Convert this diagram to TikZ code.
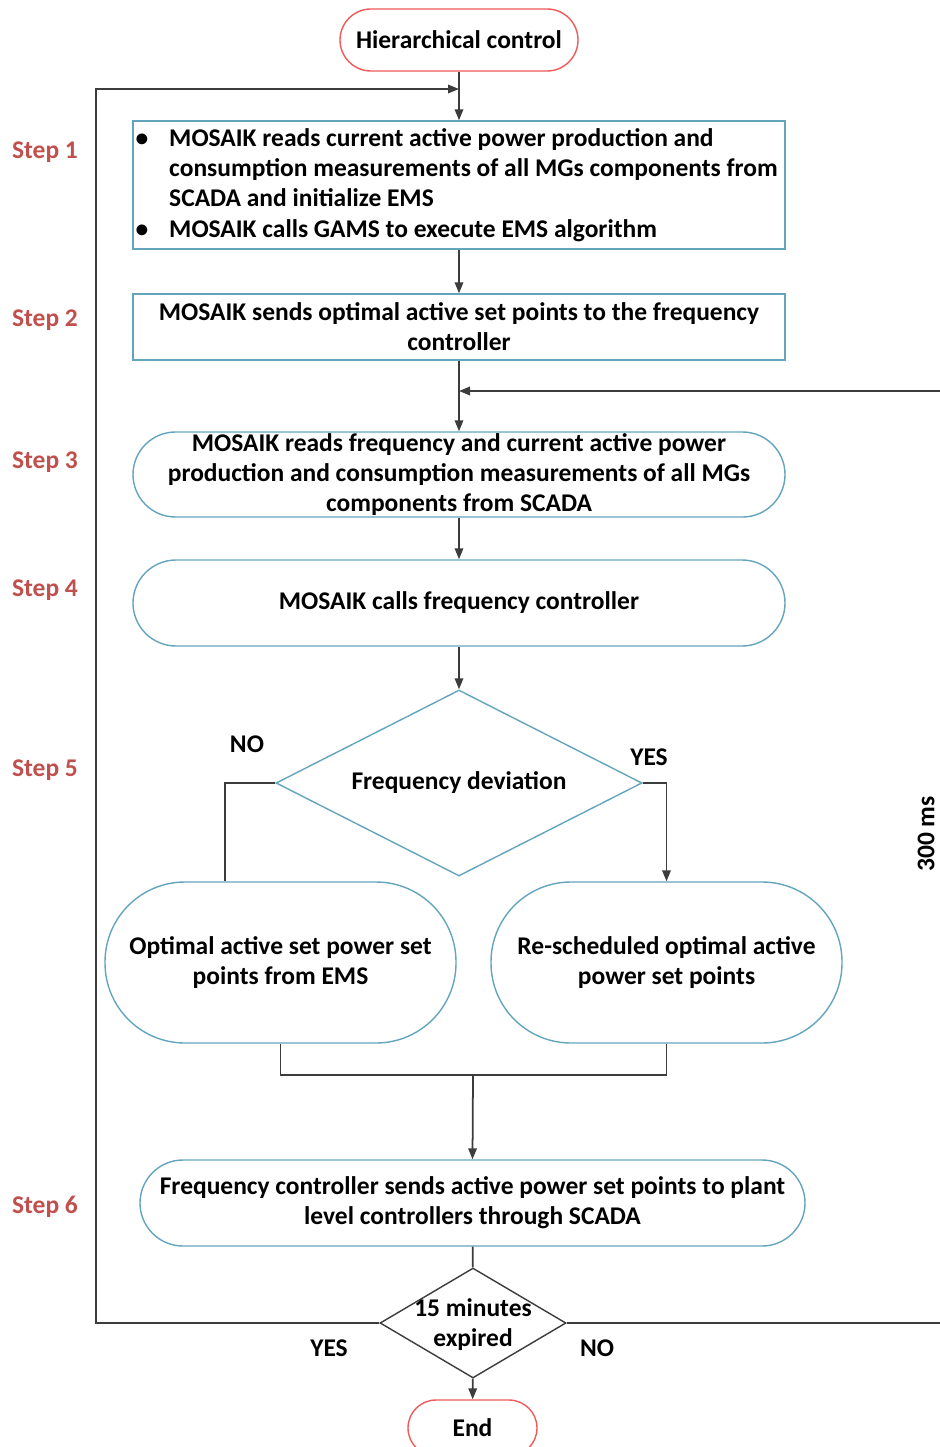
\documentclass[tikz,border=0pt]{standalone}
\usepackage{fontspec}
\setmainfont{Carlito}
\usetikzlibrary{arrows.meta}
\usetikzlibrary{shapes.geometric}
\definecolor{boxc}{RGB}{100,165,190}
\definecolor{termc}{RGB}{240,90,90}
\definecolor{stepc}{RGB}{192,80,77}
\definecolor{linec}{RGB}{60,60,60}
\tikzset{
	every node/.style={font=\fontsize{14.5}{17.2}\selectfont\bfseries},
	term/.style={draw=termc, line width=0.8pt, fill=white, align=center, inner sep=0pt},
	procbox/.style={draw=boxc, line width=0.8pt, fill=white, align=center, inner sep=0pt, minimum width=130.4mm},
	stadium/.style={procbox, rounded corners=#1},
	decbox/.style={diamond, aspect=2, draw=boxc, line width=0.8pt, fill=white, align=center, inner sep=0pt},
	steplbl/.style={text=stepc},
	ln/.style={draw=linec, line width=1pt},
	arr/.style={ln, -{Triangle[length=2.2mm, width=1.7mm]}}
}

\begin{document}
\begin{tikzpicture}[x=0.2mm, y=-0.2mm]
		\useasboundingbox (0,0) rectangle (939,1447);
		
		\node[term, minimum width=47.6mm, minimum height=12.4mm, rounded corners=6.2mm] (start) at (459,40) {Hierarchical control};
		
		\node[procbox, minimum height=25.6mm, align=left] (readems) at (459,185) {%
			\hspace*{5.8mm}\llap{\textbullet\hspace{4.2mm}}MOSAIK reads current active power production and\\
			\hspace*{5.8mm}consumption measurements of all MGs components from\\
			\hspace*{5.8mm}SCADA and initialize EMS\\
			\hspace*{5.8mm}\llap{\textbullet\hspace{4.2mm}}MOSAIK calls GAMS to execute EMS algorithm};
		\node[procbox, minimum height=13.2mm] (sendsp) at (459,327) {MOSAIK sends optimal active set points to the frequency\\controller};
		\node[stadium=8.5mm, minimum height=17mm] (readf) at (459,474.5) {MOSAIK reads frequency and current active power\\production and consumption measurements of all MGs\\components from SCADA};
		\node[stadium=8.6mm, minimum height=17.2mm] (callfc) at (459,603) {MOSAIK calls frequency controller};
		
		\node[decbox, minimum width=73.2mm, minimum height=37.2mm] (fdev) at (459,783) {Frequency deviation};
		
		\node[stadium=16mm, minimum width=70.2mm, minimum height=32.2mm] (optsp) at (280.5,962.5) {Optimal active set power set\\points from EMS};
		\node[stadium=16mm, minimum width=70.2mm, minimum height=32.2mm] (ressp) at (666.5,962.5) {Re-scheduled optimal active\\power set points};
		
		\node[stadium=8.6mm, minimum width=133mm, minimum height=17.2mm] (sendpl) at (472.5,1203) {Frequency controller sends active power set points to plant\\level controllers through SCADA};
		
		\node[decbox, draw=linec, minimum width=37.2mm, minimum height=22mm, label={[align=center, yshift=-0.3mm]center:15 minutes\\expired}] (expd) at (473,1323) {};
		\node[term, minimum width=25.8mm, minimum height=11.2mm, rounded corners=5.6mm] (stop) at (472.5,1428) {End};
		
		% step labels
		\node[steplbl] (s1) at (45,152) {Step 1};
		\node[steplbl] (s2) at (45,320) {Step 2};
		\node[steplbl] (s3) at (45,462) {Step 3};
		\node[steplbl] (s4) at (45,590) {Step 4};
		\node[steplbl] (s5) at (45,770) {Step 5};
		\node[steplbl] (s6) at (45,1207) {Step 6};
		
		\coordinate (nojoin) at (225,783);
		\coordinate (merge) at (473,1075);
		\coordinate (loopl) at (96,89);
		\coordinate (loopr) at (946,391);
		
		\draw[arr] (start) -- (readems);
		\draw[arr] (readems) -- (sendsp);
		\draw[arr] (sendsp) -- (readf);
		\draw[arr] (readf) -- (callfc);
		\draw[arr] (callfc) -- (fdev);
		\draw[ln] (fdev.west) -- (nojoin) -- (nojoin |- optsp.north);
		\draw[arr] (fdev.east) -| (ressp.north);
		\draw[ln] (optsp.south) |- (ressp.south |- merge) -- (ressp.south);
		\draw[arr] (merge) -- (sendpl.north);
		\draw[ln] (sendpl) -- (expd);
		\draw[arr] (expd) -- (stop);
		\draw[arr] (expd.west) -| (loopl) -- (start.south |- loopl);
		\draw[arr] (expd.east) -| (loopr) -- (sendsp.south |- loopr);
		
		\node (no1) at (247,744) {NO};
		\node (yes1) at (649,757) {YES};
		\node (yes2) at (329,1348) {YES};
		\node (no2) at (597,1348) {NO};
		\node[rotate=90] (tms) at (926,834) {300 ms};
	\end{tikzpicture}
\end{document}
